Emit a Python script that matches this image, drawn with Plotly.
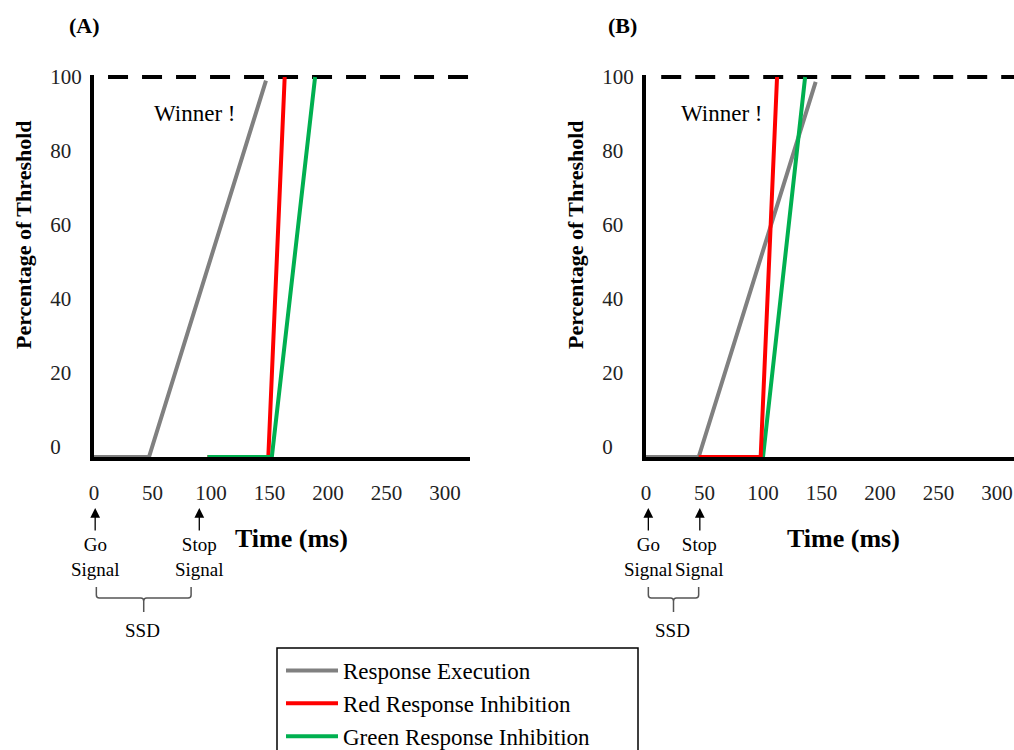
import plotly.graph_objects as go

W, H = 1014, 750
FONT = "Liberation Serif"

# ---------------- data ----------------
x_ticks = [0, 50, 100, 150, 200, 250, 300]
y_ticks = [0, 20, 40, 60, 80, 100]
y_ticktext = ["0\u00a0\u00a0\u00a0\u00a0", "20\u00a0\u00a0", "40\u00a0\u00a0",
              "60\u00a0\u00a0", "80\u00a0\u00a0", "100"]

BASE = -2.7          # level where the accumulators rest (drawn on the time axis)
THRESHOLD = 100

# Panel A : SSD = 100 ms
a_exec_x = [0, 47, 147];   a_exec_y = [BASE, BASE, 99]
a_red_x = [97, 149, 163];  a_red_y = [BASE, BASE, 100]
a_green_x = [97, 152, 189]; a_green_y = [BASE, BASE, 100]
a_go, a_stop = 1, 90
a_brace = (2, 83)
a_thr_start = 12
a_xmax = 321.4

# Panel B : SSD = 50 ms
b_exec_x = [0, 45, 145];   b_exec_y = [BASE, BASE, 98.7]
b_red_x = [45, 98, 112];   b_red_y = [BASE, BASE, 100]
b_green_x = [45, 100, 136]; b_green_y = [BASE, BASE, 100]
b_go, b_stop = 2, 46
b_brace = (2, 45)
b_thr_start = 13
b_xmax = 314.5

Y_RANGE = [-2.7, 100.54]

GRAY, RED, GREEN = "#808080", "#ff0000", "#00b050"
LW = 4

fig = go.Figure()


def add_panel(xa, ya, ex, ey, rx, ry, gx, gy, thr_start, xmax, order, legend):
    fig.add_trace(go.Scatter(x=[thr_start, xmax], y=[THRESHOLD, THRESHOLD], mode="lines",
                             line=dict(color="black", width=4, dash="20px,14px"),
                             xaxis=xa, yaxis=ya, showlegend=False, hoverinfo="skip",
                             cliponaxis=False))
    traces = {
        "exec": go.Scatter(x=ex, y=ey, mode="lines", name="Response Execution",
                           line=dict(color=GRAY, width=LW), legendrank=1),
        "red": go.Scatter(x=rx, y=ry, mode="lines", name="Red Response Inhibition",
                          line=dict(color=RED, width=LW), legendrank=2),
        "green": go.Scatter(x=gx, y=gy, mode="lines", name="Green Response Inhibition",
                            line=dict(color=GREEN, width=LW), legendrank=3),
    }
    for k in order:
        t = traces[k]
        t.update(xaxis=xa, yaxis=ya, showlegend=legend, cliponaxis=False)
        fig.add_trace(t)


add_panel("x", "y", a_exec_x, a_exec_y, a_red_x, a_red_y, a_green_x, a_green_y,
          a_thr_start, a_xmax, ["exec", "red", "green"], True)
add_panel("x2", "y2", b_exec_x, b_exec_y, b_red_x, b_red_y, b_green_x, b_green_y,
          b_thr_start, b_xmax, ["exec", "green", "red"], False)

tickfont = dict(family=FONT, size=21, color="#222")
xcommon = dict(showline=True, linewidth=4, linecolor="black", showgrid=False, zeroline=False,
               tickvals=x_ticks, ticks="outside", ticklen=14, tickcolor="rgba(0,0,0,0)",
               tickfont=tickfont, fixedrange=True, automargin=False)
ycommon = dict(showline=True, linewidth=4, linecolor="black", showgrid=False, zeroline=False,
               tickvals=y_ticks, ticktext=y_ticktext, ticks="outside", ticklen=4,
               tickcolor="rgba(0,0,0,0)", tickfont=tickfont, range=Y_RANGE,
               domain=[1 - 457 / H, 1 - 75 / H], fixedrange=True, automargin=False)

fig.update_layout(
    width=W, height=H, margin=dict(l=0, r=0, t=0, b=0, pad=0, autoexpand=False),
    paper_bgcolor="white", plot_bgcolor="white",
    xaxis=dict(xcommon, domain=[94 / W, 470 / W], range=[0, a_xmax], anchor="y"),
    yaxis=dict(ycommon, anchor="x"),
    xaxis2=dict(xcommon, domain=[646 / W, 1], range=[0, b_xmax], anchor="y2"),
    yaxis2=dict(ycommon, anchor="x2"),
    legend=dict(x=281 / W, y=1 - 649 / H, xanchor="left", yanchor="top",
                font=dict(family=FONT, size=23, color="black"), bgcolor="rgba(0,0,0,0)",
                borderwidth=0, itemwidth=52, tracegroupgap=0),
    font=dict(family=FONT, color="black"),
)

# legend frame
fig.add_shape(type="rect", xref="paper", yref="paper", x0=277 / W, x1=638 / W,
              y0=-0.02, y1=1 - 648 / H, line=dict(color="black", width=1.5), layer="above")

ann = []
C = dict(xanchor="center", yanchor="middle", showarrow=False)
# panel labels
ann.append(dict(C, text="<b>(A)</b>", x=84 / W, y=1 - 26 / H, xref="paper", yref="paper",
                font=dict(size=22)))
ann.append(dict(C, text="<b>(B)</b>", x=622 / W, y=1 - 26 / H, xref="paper", yref="paper",
                font=dict(size=22)))
# winner
ann.append(dict(C, text="Winner !", x=86, y=90, xref="x", yref="y", font=dict(size=23)))
ann.append(dict(C, text="Winner !", x=64.5, y=90, xref="x2", yref="y2", font=dict(size=23)))
# axis titles
for cx in (23, 575):
    ann.append(dict(C, text="<b>Percentage of Threshold</b>", x=cx / W, y=1 - 235 / H,
                    xref="paper", yref="paper", textangle=-90, font=dict(size=22)))
for cx in (291, 843):
    ann.append(dict(C, text="<b>Time (ms)</b>", x=cx / W, y=1 - 538 / H, xref="paper",
                    yref="paper", font=dict(size=26)))

# go / stop signal arrows and labels
for xr, gx, sx in (("x", a_go, a_stop), ("x2", b_go, b_stop)):
    for px, lab in ((gx, "Go<br>Signal"), (sx, "Stop<br>Signal")):
        ann.append(dict(text="", x=px, y=1 - 508 / H, xref=xr, yref="paper",
                        ax=0, ay=24, showarrow=True, arrowhead=2, arrowsize=1.5,
                        arrowwidth=1.3, arrowcolor="black", standoff=0))
        ann.append(dict(C, text=lab, x=px, y=1 - 557 / H, xref=xr, yref="paper",
                        font=dict(size=19)))

# SSD braces
def brace(xr, x0, x1):
    r = 3.0 / 1.17
    yt, yl, yp = 1 - 587 / H, 1 - 598 / H, 1 - 612 / H
    ry = 3.0 / H
    m = (x0 + x1) / 2
    path = (f"M{x0},{yt} L{x0},{yl + ry} Q{x0},{yl} {x0 + r},{yl} L{m - r},{yl} "
            f"Q{m},{yl} {m},{yl - ry} L{m},{yp} M{m},{yl - ry} Q{m},{yl} {m + r},{yl} "
            f"L{x1 - r},{yl} Q{x1},{yl} {x1},{yl + ry} L{x1},{yt}")
    fig.add_shape(type="path", xref=xr, yref="paper", path=path,
                  line=dict(color="#555", width=1.5))
    ann.append(dict(C, text="SSD", x=m - 1, y=1 - 630 / H, xref=xr, yref="paper",
                    font=dict(size=19)))

brace("x", *a_brace)
brace("x2", *b_brace)

fig.update_layout(annotations=ann)
fig.write_html(
    "out.html",
    config={"displayModeBar": False},
    post_script="document.body.style.margin='0';document.body.style.overflow='hidden';",
)
